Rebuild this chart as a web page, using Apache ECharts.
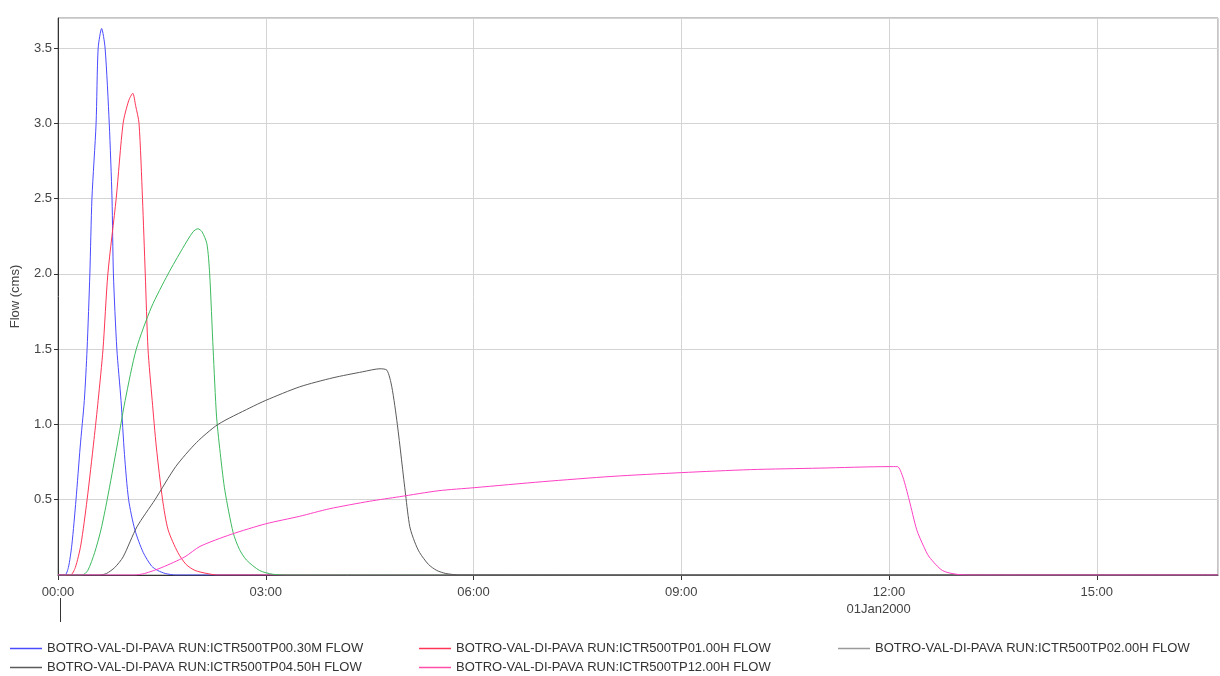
<!DOCTYPE html>
<html>
<head>
<meta charset="utf-8">
<script src="https://cdn.jsdelivr.net/npm/echarts@6/dist/echarts.min.js"></script>
<style>
html,body{margin:0;padding:0;background:#fff;}
#chart{width:1220px;height:676px;}
</style>
</head>
<body>
<div id="chart"></div>
<script>
// ---- Data (time in hours from 01Jan2000 00:00, flow in cms) ----
const seriesNames = [
  'BOTRO-VAL-DI-PAVA RUN:ICTR500TP00.30M FLOW',
  'BOTRO-VAL-DI-PAVA RUN:ICTR500TP01.00H FLOW',
  'BOTRO-VAL-DI-PAVA RUN:ICTR500TP02.00H FLOW',
  'BOTRO-VAL-DI-PAVA RUN:ICTR500TP04.50H FLOW',
  'BOTRO-VAL-DI-PAVA RUN:ICTR500TP12.00H FLOW'
];
const xTickLabels = ['00:00', '03:00', '06:00', '09:00', '12:00', '15:00'];
const dateLabel = '01Jan2000';

const t030 = [0, 0.1, 0.15, 0.2, 0.26, 0.32, 0.38, 0.42, 0.46, 0.49, 0.55, 0.58, 0.63, 0.68, 0.74, 0.78, 0.80, 0.85, 0.91, 0.96, 1.02, 1.11, 1.23, 1.35, 1.44, 1.55, 1.7, 16.75];
const q030 = [0, 0, 0.05, 0.2, 0.5, 0.85, 1.16, 1.5, 2.0, 2.5, 3.0, 3.5, 3.63, 3.5, 3.0, 2.5, 2.0, 1.5, 1.16, 0.8, 0.5, 0.30, 0.15, 0.06, 0.03, 0.01, 0, 0];

const t100 = [0, 0.18, 0.25, 0.33, 0.42, 0.52, 0.58, 0.65, 0.72, 0.84, 0.94, 1.02, 1.08, 1.12, 1.17, 1.22, 1.26, 1.30, 1.36, 1.42, 1.51, 1.59, 1.73, 1.85, 1.98, 2.15, 2.3, 16.75];
const q100 = [0, 0, 0.05, 0.2, 0.5, 0.9, 1.16, 1.5, 2.0, 2.5, 3.0, 3.15, 3.20, 3.12, 3.0, 2.5, 2.0, 1.5, 1.16, 0.85, 0.5, 0.30, 0.15, 0.07, 0.03, 0.01, 0, 0];

const t200 = [0, 0.35, 0.43, 0.53, 0.62, 0.71, 0.85, 0.97, 1.13, 1.35, 1.59, 1.80, 1.95, 2.02, 2.08, 2.15, 2.19, 2.24, 2.29, 2.35, 2.41, 2.53, 2.62, 2.72, 2.91, 3.1, 3.3, 16.75];
const q200 = [0, 0, 0.03, 0.15, 0.3, 0.5, 0.85, 1.16, 1.5, 1.78, 2.0, 2.17, 2.28, 2.30, 2.28, 2.20, 2.0, 1.5, 1.05, 0.78, 0.56, 0.28, 0.17, 0.10, 0.03, 0.005, 0, 0];

const t450 = [0, 0.6, 0.70, 0.82, 0.94, 1.14, 1.40, 1.7, 2.0, 2.31, 2.77, 3.0, 3.49, 3.97, 4.4, 4.65, 4.75, 4.82, 4.90, 5.02, 5.08, 5.15, 5.22, 5.35, 5.47, 5.6, 5.8, 16.75];
const q450 = [0, 0, 0.01, 0.05, 0.12, 0.32, 0.5, 0.72, 0.88, 1.0, 1.11, 1.16, 1.25, 1.31, 1.35, 1.37, 1.36, 1.25, 1.0, 0.53, 0.32, 0.22, 0.15, 0.07, 0.03, 0.01, 0, 0];

const t1200 = [0, 1.1, 1.25, 1.5, 1.83, 2.05, 2.5, 3.0, 3.49, 3.92, 4.5, 4.93, 5.5, 6.01, 7.0, 8.0, 9.0, 10.0, 11.0, 12.0, 12.12, 12.2, 12.29, 12.40, 12.5, 12.58, 12.77, 12.97, 13.2, 16.75];
const q1200 = [0, 0, 0.01, 0.05, 0.12, 0.19, 0.27, 0.34, 0.39, 0.44, 0.49, 0.52, 0.56, 0.58, 0.62, 0.655, 0.68, 0.70, 0.71, 0.72, 0.72, 0.65, 0.5, 0.30, 0.19, 0.12, 0.03, 0.005, 0, 0];

const seriesTimes = [t030, t100, t200, t450, t1200];
const seriesFlows = [q030, q100, q200, q450, q1200];
const seriesColors = ['#4a4aff', '#ff3556', '#3dba5e', '#5a5a5a', '#ff3fc4'];
const legendColors = ['#4a4aff', '#ff3556', '#9a9a9a', '#5a5a5a', '#ff4fa8'];

const FONT = 'Liberation Sans, Arial, sans-serif';

const chart = echarts.init(document.getElementById('chart'), null, {renderer: 'canvas'});

const series = seriesNames.map((name, i) => ({
  name: name,
  type: 'line',
  data: seriesTimes[i].map((t, k) => [t, seriesFlows[i][k]]),
  showSymbol: false,
  symbol: 'none',
  smooth: 0.25,
  lineStyle: {width: 1, color: seriesColors[i]},
  itemStyle: {color: seriesColors[i]},
  emphasis: {disabled: true},
  animation: false,
  z: 3
}));

// legend slots: [series index, left, top]
const legendSlots = [[0, 10, 642], [1, 419, 642], [2, 838, 642], [3, 10, 661], [4, 419, 661]];
const legends = legendSlots.map(s => ({
  left: s[1],
  top: s[2],
  padding: 0,
  icon: 'rect',
  itemWidth: 32,
  itemHeight: 1.5,
  textStyle: {fontFamily: FONT, fontSize: 13, color: '#333'},
  selectedMode: false,
  data: [{name: seriesNames[s[0]], itemStyle: {color: legendColors[s[0]]}}]
}));

chart.setOption({
  animation: false,
  backgroundColor: '#fff',
  grid: {left: 58, top: 18, right: 2, bottom: 101, show: true, borderColor: '#8a8a8a', borderWidth: 1, outerBoundsMode: 'none', containLabel: false},
  legend: legends,
  xAxis: {
    type: 'value',
    min: 0,
    max: 16.75,
    interval: 3,
    axisLine: {show: true, onZero: false, lineStyle: {color: '#333', width: 1}},
    axisTick: {show: true, length: 5, lineStyle: {color: '#333'}},
    axisLabel: {
      fontFamily: FONT, fontSize: 13, color: '#444', margin: 11,
      showMaxLabel: false,
      formatter: function (v) {
        const idx = Math.round(v / 3);
        return (Math.abs(v - idx * 3) < 1e-6 && xTickLabels[idx]) ? xTickLabels[idx] : '';
      }
    },
    splitLine: {show: true, lineStyle: {color: '#d4d4d4', width: 1}}
  },
  yAxis: {
    type: 'value',
    min: 0,
    max: 3.7,
    interval: 0.5,
    name: 'Flow (cms)',
    nameLocation: 'middle',
    nameGap: 36,
    nameTextStyle: {fontFamily: FONT, fontSize: 13, color: '#444'},
    axisLine: {show: true, lineStyle: {color: '#333', width: 1}},
    axisTick: {show: true, length: 4, lineStyle: {color: '#333'}},
    axisLabel: {
      fontFamily: FONT, fontSize: 13, color: '#444', margin: 6,
      showMinLabel: false, showMaxLabel: false,
      formatter: function (v) {
        if (v <= 0 || v > 3.55) return '';
        return v.toFixed(1);
      }
    },
    splitLine: {show: true, lineStyle: {color: '#d4d4d4', width: 1}}
  },
  series: series
});

// Date label under the time axis and the day-boundary marker at 00:00
const p0 = chart.convertToPixel({xAxisIndex: 0, yAxisIndex: 0}, [0, 0]);
const pDate = chart.convertToPixel({xAxisIndex: 0, yAxisIndex: 0}, [11.85, 0]);
chart.setOption({
  graphic: [
    {
      type: 'line',
      shape: {x1: Math.round(p0[0]) + 2.5, y1: p0[1] + 23, x2: Math.round(p0[0]) + 2.5, y2: p0[1] + 47},
      style: {stroke: '#333', lineWidth: 1},
      silent: true
    },
    {
      type: 'text',
      x: pDate[0],
      y: p0[1] + 34,
      style: {text: dateLabel, font: '13px ' + FONT, fill: '#444', textAlign: 'center', textVerticalAlign: 'middle'},
      silent: true
    }
  ]
});
</script>
</body>
</html>
